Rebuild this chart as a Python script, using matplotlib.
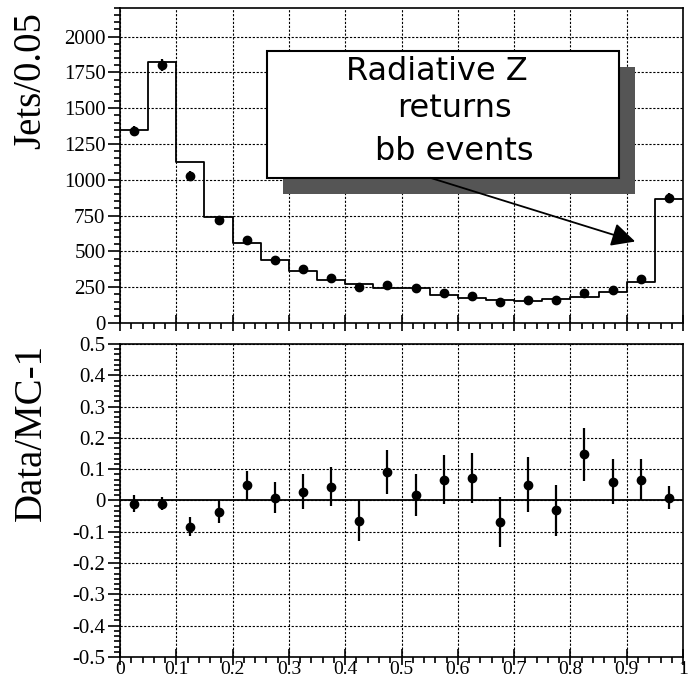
import numpy as np
import matplotlib
matplotlib.use("Agg")
import matplotlib.pyplot as plt
from matplotlib.ticker import MultipleLocator, AutoMinorLocator, FixedLocator
from matplotlib.patches import Rectangle, FancyArrowPatch
from matplotlib.transforms import offset_copy

# Binning: 20 bins of width 0.05 on [0, 1]
bin_edges = np.linspace(0.0, 1.0, 21)
bin_centers = 0.5 * (bin_edges[:-1] + bin_edges[1:])

# Observed jets per bin
data_counts = [1340, 1805, 1028, 716, 580, 440, 375, 317, 254, 266,
               247, 208, 189, 149, 161, 161, 208, 231, 305, 876]
data_errors = [37, 42, 32, 27, 24, 21, 19, 18, 16, 16,
               16, 14, 14, 12, 13, 13, 14, 15, 17, 30]

# Simulated (MC) prediction per bin
mc_counts = [1350, 1820, 1124, 743, 557, 437, 366, 301, 270, 242,
             244, 196, 175, 160, 153, 166, 182, 218, 284, 867]

# Data/MC - 1 with uncertainties
ratio = [-0.010, -0.010, -0.084, -0.036, 0.048, 0.009, 0.028, 0.044, -0.065, 0.092,
         0.017, 0.067, 0.072, -0.069, 0.051, -0.032, 0.147, 0.060, 0.067, 0.009]
ratio_err = [0.028, 0.020, 0.031, 0.037, 0.046, 0.050, 0.056, 0.062, 0.064, 0.070,
             0.068, 0.077, 0.081, 0.080, 0.087, 0.080, 0.085, 0.072, 0.067, 0.036]

x_tick_labels = ["0", "0.1", "0.2", "0.3", "0.4", "0.5", "0.6", "0.7", "0.8", "0.9", "1"]
top_tick_labels = ["0", "250", "500", "750", "1000", "1250", "1500", "1750", "2000"]
bot_tick_labels = ["-0.5", "-0.4", "-0.3", "-0.2", "-0.1", "0",
                   "0.1", "0.2", "0.3", "0.4", "0.5"]

plt.rcParams["font.family"] = ["Liberation Serif", "DejaVu Serif"]

fig = plt.figure(figsize=(6.93, 6.84), dpi=100)
ax1 = fig.add_axes([0.1732, 0.5278, 0.8124, 0.4605])
ax2 = fig.add_axes([0.1732, 0.0395, 0.8124, 0.4576])

grid_kw = dict(color="black", linestyle=(0, (2, 1.5)), linewidth=0.8)

for ax in (ax1, ax2):
    ax.set_xlim(0, 1)
    ax.xaxis.set_major_locator(MultipleLocator(0.1))
    ax.xaxis.set_minor_locator(AutoMinorLocator(5))
    ax.tick_params(axis="x", which="major", direction="inout", length=12, width=1.2,
                   top=False)
    ax.tick_params(axis="x", which="minor", direction="out", length=4.5, width=1.2,
                   top=False)
    ax.tick_params(axis="y", which="major", direction="out", length=8.5, width=1.2,
                   right=False, labelsize=15, pad=2)
    ax.tick_params(axis="y", which="minor", direction="out", length=4.5, width=1.2,
                   right=False)
    for sp in ax.spines.values():
        sp.set_linewidth(1.2)
    ax.grid(True, which="major", **grid_kw)
    ax.set_axisbelow(True)

# ---- Upper panel: distribution ----
ax1.set_ylim(0, 2200)
ax1.yaxis.set_major_locator(FixedLocator(np.arange(0, 2001, 250)))
ax1.set_yticklabels(top_tick_labels)
ax1.yaxis.set_minor_locator(MultipleLocator(50))
ax1.tick_params(axis="x", labelbottom=False)

mc_steps = np.append(mc_counts, mc_counts[-1])
ax1.step(bin_edges, mc_steps, where="post", color="black", linewidth=1.3, zorder=3)
ax1.errorbar(bin_centers, data_counts, yerr=data_errors, fmt="o", color="black",
             markersize=6, elinewidth=1.6, capsize=0, zorder=4)

ax1.set_ylabel("Jets/0.05", fontsize=28)
ax1.yaxis.set_label_coords(-0.158, 0.771)
ax1.yaxis.label.set_verticalalignment("center")

# Annotation box with drop shadow
box_x0, box_x1 = 0.261, 0.886
box_y0, box_y1 = 1014, 1902
shadow_tr = offset_copy(ax1.transData, fig=fig, x=16, y=-16, units="dots")
ax1.add_patch(Rectangle((box_x0, box_y0), box_x1 - box_x0, box_y1 - box_y0,
                        facecolor="#555555", edgecolor="none",
                        transform=shadow_tr, zorder=5))
ax1.add_patch(Rectangle((box_x0, box_y0), box_x1 - box_x0, box_y1 - box_y0,
                        facecolor="white", edgecolor="black", linewidth=1.5,
                        zorder=6))
box_cx = 0.5 * (box_x0 + box_x1)
for txt, xv, yv in [("Radiative Z", box_cx - 0.01, 1755),
                    ("returns", box_cx + 0.02, 1495),
                    ("bb events", box_cx + 0.02, 1200)]:
    ax1.text(xv, yv, txt, ha="center", va="center", fontsize=23,
             family=["DejaVu Sans"], zorder=7)

ax1.add_patch(FancyArrowPatch((0.551, 1014), (0.915, 569), arrowstyle="-|>",
                              mutation_scale=36, color="black", linewidth=1.3,
                              shrinkA=0, shrinkB=0, zorder=7))

# ---- Lower panel: Data/MC - 1 ----
ax2.set_ylim(-0.5, 0.5)
ax2.yaxis.set_major_locator(FixedLocator(np.round(np.arange(-0.5, 0.51, 0.1), 1)))
ax2.set_yticklabels(bot_tick_labels)
ax2.yaxis.set_minor_locator(AutoMinorLocator(6))
ax2.xaxis.set_major_locator(FixedLocator(np.round(np.arange(0, 1.01, 0.1), 1)))
ax2.set_xticklabels(x_tick_labels)
ax2.tick_params(axis="x", which="major", labelsize=14, pad=-3)
ax2.axhline(0, color="black", linewidth=1.3, zorder=3)
ax2.errorbar(bin_centers, ratio, yerr=ratio_err, fmt="o", color="black",
             markersize=6, elinewidth=1.6, capsize=0, zorder=4)

ax2.set_ylabel("Data/MC-1", fontsize=28)
ax2.yaxis.set_label_coords(-0.158, 0.716)
ax2.yaxis.label.set_verticalalignment("center")

fig.savefig("out.png", dpi=100)
